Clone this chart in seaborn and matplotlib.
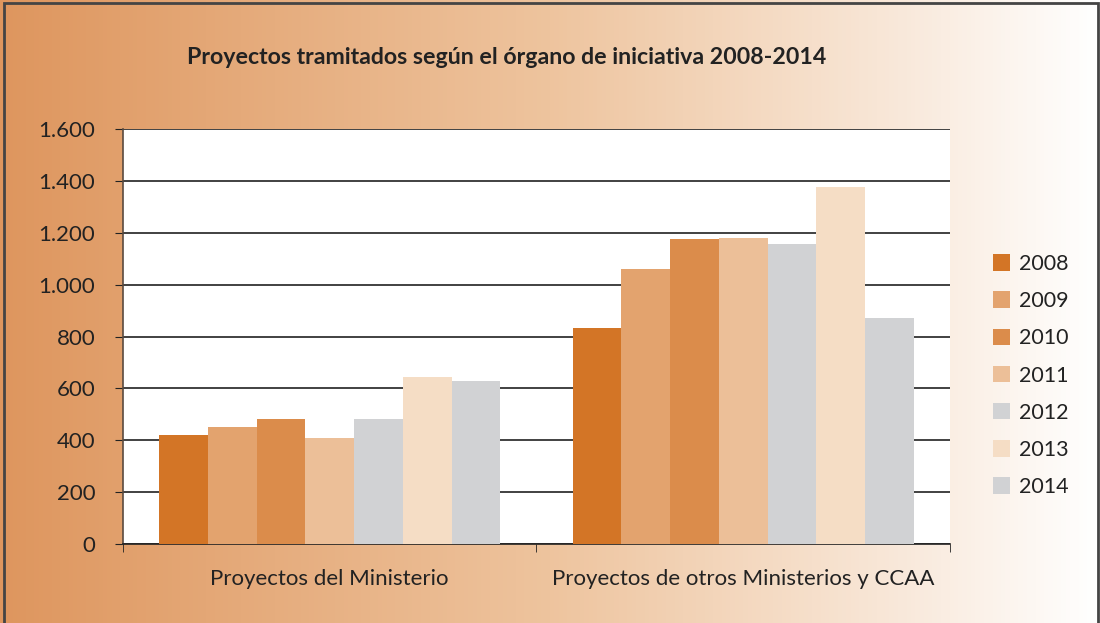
import numpy as np
import pandas as pd
import seaborn as sns
import matplotlib.pyplot as plt
from matplotlib.colors import LinearSegmentedColormap
from matplotlib.patches import Rectangle
from matplotlib.ticker import FuncFormatter, FixedLocator

# datos
categorias = ['Proyectos del Ministerio', 'Proyectos de otros Ministerios y CCAA']
anios = ['2008', '2009', '2010', '2011', '2012', '2013', '2014']
ministerio = [422, 450, 481, 410, 481, 643, 627]
otros = [833, 1060, 1176, 1180, 1157, 1376, 871]

colores = ['#d37526', '#e3a36e', '#db8c4b', '#ecbf98', '#d1d2d4', '#f5ddc5', '#d1d2d4']

df = pd.DataFrame({
    'Categoria': [categorias[0]] * 7 + [categorias[1]] * 7,
    'Año': anios * 2,
    'Valor': ministerio + otros,
})

sns.set_style('white')
plt.rcParams['font.family'] = ['Lato', 'DejaVu Sans']

fig = plt.figure(figsize=(11, 6.23), dpi=100)

# fondo degradado
bg = fig.add_axes([0, 0, 1, 1], zorder=-1)
grad = LinearSegmentedColormap.from_list('fondo', [
    (0.0, (222 / 255, 150 / 255, 94 / 255)),
    (0.5, (238 / 255, 196 / 255, 158 / 255)),
    (0.8, (248 / 255, 230 / 255, 214 / 255)),
    (1.0, (1, 1, 1)),
])
bg.imshow(np.linspace(0, 1, 256).reshape(1, -1), aspect='auto', cmap=grad, extent=[0, 1, 0, 1])
bg.set_axis_off()
fig.patches.append(Rectangle((0.004, -0.01), 0.994, 1.005, transform=fig.transFigure,
                             fill=False, edgecolor='#444444', linewidth=2))

ax = fig.add_axes([0.1118, 0.1268, 0.7518, 0.6661])
ax.set_facecolor('white')
sns.barplot(data=df, x='Categoria', y='Valor', hue='Año', palette=colores,
            width=0.825, saturation=1, linewidth=0, ax=ax, zorder=3)

ax.set_ylim(0, 1600)
ax.set_xlim(-0.5, 1.5)
ax.set_yticks(range(0, 1601, 200))
ax.yaxis.set_major_formatter(FuncFormatter(lambda v, p: f'{int(v):,}'.replace(',', '.')))
ax.grid(axis='y', color='#333333', linewidth=1.3, zorder=0)
ax.set_axisbelow(True)

for s in ['top', 'right']:
    ax.spines[s].set_visible(False)
ax.spines['left'].set_color('#5a4a40')
ax.spines['bottom'].set_color('#222222')
ax.spines['left'].set_linewidth(1.2)
ax.spines['bottom'].set_linewidth(1.2)

ax.tick_params(axis='y', which='major', left=True, length=6, color='#222222',
               labelsize=16, labelcolor='#222222', pad=14)
ax.tick_params(axis='x', which='major', length=0, labelsize=16, labelcolor='#222222', pad=18)
ax.xaxis.set_minor_locator(FixedLocator([-0.5, 0.5, 1.5]))
ax.tick_params(axis='x', which='minor', bottom=True, length=6, color='#222222', direction='out')
ax.set_xlabel('')
ax.set_ylabel('')

leg = ax.legend(loc='center left', bbox_to_anchor=(1.052, 0.406), frameon=False,
                fontsize=15.5, handlelength=0.8, handleheight=0.8, labelspacing=0.8,
                handletextpad=0.4, labelcolor='#222222', borderpad=0, borderaxespad=0)

fig.text(0.461, 0.908, 'Proyectos tramitados según el órgano de iniciativa 2008-2014',
         ha='center', va='center', fontsize=16.7, fontweight='bold', color='#222222')

fig.savefig('out.png', dpi=100)
